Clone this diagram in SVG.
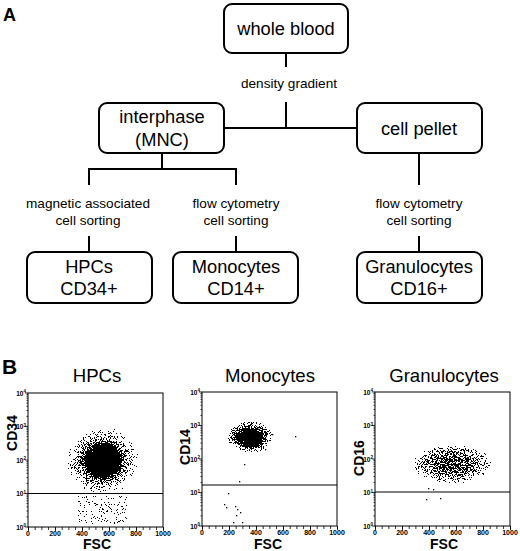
<svg xmlns="http://www.w3.org/2000/svg" width="520" height="551" viewBox="0 0 520 551">
<style>
text{font-family:"Liberation Sans",Arial,sans-serif;fill:#000}
.box{fill:#fff;stroke:#000;stroke-width:2}
.bt{font-size:18.3px;text-anchor:middle}
.st{font-size:13.6px;text-anchor:middle}
.con line{stroke:#000;stroke-width:2}
.pl{font-size:18px;font-weight:bold}
.frame{fill:#fff;stroke:#000;stroke-width:1}
.gate{stroke:#000;stroke-width:1.2}
.title{font-size:18.6px;text-anchor:middle}
.ax{font-size:14px;font-weight:bold;text-anchor:middle}
.tk{font-size:7px;font-weight:bold;text-anchor:middle}
.ty{font-size:6.5px;font-weight:bold;text-anchor:end}
.ty tspan{font-size:4.5px}
.tick{stroke:#000;stroke-width:0.8}
.dot{fill:#000}
</style>
<defs>
<filter id="spk" filterUnits="userSpaceOnUse" x="-20" y="-20" width="180" height="180" color-interpolation-filters="sRGB">
<feTurbulence type="fractalNoise" baseFrequency="0.87" numOctaves="2" seed="7" result="n"/>
<feColorMatrix in="n" type="matrix" values="0 0 0 0 0 0 0 0 0 0 0 0 0 0 0 1 0 0 0 0" result="na"/>
<feComposite in="SourceAlpha" in2="na" operator="arithmetic" k1="0" k2="1" k3="1" k4="-0.8" result="s"/>
<feComponentTransfer in="s"><feFuncA type="discrete" tableValues="0 1"/></feComponentTransfer>
</filter>
<filter id="spkH" filterUnits="userSpaceOnUse" x="-20" y="-20" width="180" height="180" color-interpolation-filters="sRGB">
<feTurbulence type="fractalNoise" baseFrequency="0.87" numOctaves="2" seed="7" result="n"/>
<feColorMatrix in="n" type="matrix" values="0 0 0 0 0 0 0 0 0 0 0 0 0 0 0 1 0 0 0 0" result="na"/>
<feComposite in="SourceAlpha" in2="na" operator="arithmetic" k1="0" k2="1.5" k3="1" k4="-1.125" result="s"/>
<feComponentTransfer in="s"><feFuncA type="discrete" tableValues="0 1"/></feComponentTransfer>
</filter>
<filter id="spkM" filterUnits="userSpaceOnUse" x="-20" y="-20" width="180" height="180" color-interpolation-filters="sRGB">
<feTurbulence type="fractalNoise" baseFrequency="0.91" numOctaves="2" seed="23" result="n"/>
<feColorMatrix in="n" type="matrix" values="0 0 0 0 0 0 0 0 0 0 0 0 0 0 0 1 0 0 0 0" result="na"/>
<feComposite in="SourceAlpha" in2="na" operator="arithmetic" k1="0" k2="1.5" k3="1" k4="-1.125" result="s"/>
<feComponentTransfer in="s"><feFuncA type="discrete" tableValues="0 1"/></feComponentTransfer>
</filter>
<radialGradient id="gH"><stop offset="0" stop-opacity="1"/><stop offset="0.38" stop-opacity="1"/><stop offset="0.45" stop-opacity="0.9"/><stop offset="0.54" stop-opacity="0.79"/><stop offset="0.67" stop-opacity="0.72"/><stop offset="0.82" stop-opacity="0.67"/><stop offset="1" stop-opacity="0.6"/></radialGradient>
<radialGradient id="gM"><stop offset="0" stop-opacity="1"/><stop offset="0.42" stop-opacity="0.95"/><stop offset="0.7" stop-opacity="0.75"/><stop offset="1" stop-opacity="0.64"/></radialGradient>
<radialGradient id="gG"><stop offset="0" stop-opacity="0.88"/><stop offset="0.45" stop-opacity="0.83"/><stop offset="0.8" stop-opacity="0.72"/><stop offset="1" stop-opacity="0.6"/></radialGradient>
<g id="ydec">
<line class="tick" x1="-3" y1="0" x2="0" y2="0"/>
<line class="tick" x1="-1.5" y1="-10.1" x2="0" y2="-10.1"/>
<line class="tick" x1="-1.5" y1="-16" x2="0" y2="-16"/>
<line class="tick" x1="-1.5" y1="-20.2" x2="0" y2="-20.2"/>
<line class="tick" x1="-1.5" y1="-23.4" x2="0" y2="-23.4"/>
<line class="tick" x1="-1.5" y1="-26.1" x2="0" y2="-26.1"/>
<line class="tick" x1="-1.5" y1="-28.3" x2="0" y2="-28.3"/>
<line class="tick" x1="-1.5" y1="-30.3" x2="0" y2="-30.3"/>
<line class="tick" x1="-1.5" y1="-32" x2="0" y2="-32"/>
</g>
<g id="axes">
<use href="#ydec" y="134"/><use href="#ydec" y="100.5"/><use href="#ydec" y="67"/><use href="#ydec" y="33.5"/>
<line class="tick" x1="-3" y1="0" x2="0" y2="0"/>
<line x1="0" y1="135.5" x2="136" y2="135.5" stroke="#000" stroke-width="3" stroke-dasharray="0.8 5.95"/>
<line x1="0" y1="136" x2="136" y2="136" stroke="#000" stroke-width="4" stroke-dasharray="0.8 26.2"/>
<text class="ty" x="-2" y="136.5">10<tspan dy="-2.5">0</tspan></text>
<text class="ty" x="-2" y="103">10<tspan dy="-2.5">1</tspan></text>
<text class="ty" x="-2" y="69.5">10<tspan dy="-2.5">2</tspan></text>
<text class="ty" x="-2" y="36">10<tspan dy="-2.5">3</tspan></text>
<text class="ty" x="-2" y="2.5">10<tspan dy="-2.5">4</tspan></text>
<text class="tk" x="0" y="143">0</text>
<text class="tk" x="27" y="143">200</text>
<text class="tk" x="54" y="143">400</text>
<text class="tk" x="81" y="143">600</text>
<text class="tk" x="108" y="143">800</text>
<text class="tk" x="135" y="143">1000</text>
</g>
</defs>

<text class="pl" x="3" y="21">A</text>

<g id="connectors" class="con">
<line x1="286" y1="53" x2="286" y2="67"/>
<line x1="286" y1="102" x2="286" y2="129"/>
<line x1="224" y1="128" x2="357" y2="128"/>
<line x1="162" y1="153" x2="162" y2="170"/>
<line x1="88" y1="169" x2="237" y2="169"/>
<line x1="89" y1="168" x2="89" y2="185"/>
<line x1="236" y1="168" x2="236" y2="185"/>
<line x1="419" y1="153" x2="419" y2="185"/>
<line x1="89" y1="236" x2="89" y2="252"/>
<line x1="236" y1="236" x2="236" y2="252"/>
<line x1="419" y1="236" x2="419" y2="252"/>
<text class="st" x="289" y="88">density gradient</text>
<text class="st" x="88" y="208">magnetic associated</text>
<text class="st" x="88" y="225">cell sorting</text>
<text class="st" x="236" y="208">flow cytometry</text>
<text class="st" x="236" y="225">cell sorting</text>
<text class="st" x="419" y="208">flow cytometry</text>
<text class="st" x="419" y="225">cell sorting</text>
</g>

<g id="n-whole"><rect class="box" x="224" y="4" width="124" height="49" rx="8"/><text class="bt" x="286" y="35">whole blood</text></g>
<g id="n-inter"><rect class="box" x="99" y="103" width="125" height="50" rx="8"/><text class="bt" x="162" y="123">interphase</text><text class="bt" x="162" y="146">(MNC)</text></g>
<g id="n-pellet"><rect class="box" x="357" y="103" width="125" height="50" rx="8"/><text class="bt" x="419" y="135">cell pellet</text></g>
<g id="n-hpc"><rect class="box" x="27" y="252" width="125" height="51" rx="8"/><text class="bt" x="89" y="273">HPCs</text><text class="bt" x="89" y="295">CD34+</text></g>
<g id="n-mono"><rect class="box" x="173" y="252" width="125" height="51" rx="8"/><text class="bt" x="236" y="273">Monocytes</text><text class="bt" x="236" y="295">CD14+</text></g>
<g id="n-gran"><rect class="box" x="357" y="252" width="125" height="51" rx="8"/><text class="bt" x="419" y="273">Granulocytes</text><text class="bt" x="419" y="295">CD16+</text></g>

<text class="pl" x="2" y="374" style="font-size:21px">B</text>

<g id="plot-hpc">
<text class="title" x="97" y="382">HPCs</text>
<text class="ax" x="97" y="549">FSC</text>
<text class="ax" transform="translate(17,433) rotate(-90)">CD34</text>
<g transform="translate(28,393)">
<rect class="frame" x="0" y="0" width="135" height="134"/>
<g filter="url(#spkH)">
<ellipse cx="75" cy="68" rx="36" ry="34" fill="url(#gH)"/>
<rect x="50" y="103" width="50" height="28" fill="#000" fill-opacity="0.64"/>
</g>
<line class="gate" x1="0" y1="100.5" x2="135" y2="100.5"/>
<use href="#axes"/>
</g>
</g>

<g id="plot-mono">
<text class="title" x="270" y="382">Monocytes</text>
<text class="ax" x="268" y="549">FSC</text>
<text class="ax" transform="translate(190,447) rotate(-90)">CD14</text>
<g transform="translate(202,392)">
<rect class="frame" x="0" y="0" width="135" height="134"/>
<g filter="url(#spkM)">
<ellipse cx="48" cy="45" rx="23" ry="16" fill="url(#gM)"/>
</g>
<g class="dot">
<rect x="70" y="42" width="1.3" height="1.3"/><rect x="93" y="44" width="1.3" height="1.3"/>
<rect x="63" y="57" width="1.3" height="1.3"/><rect x="42" y="72" width="1.3" height="1.3"/>
<rect x="37" y="89" width="1.3" height="1.3"/><rect x="26" y="101" width="1.3" height="1.3"/>
<rect x="22" y="112" width="1.3" height="1.3"/><rect x="24" y="115" width="1.3" height="1.3"/>
<rect x="33" y="114" width="1.3" height="1.3"/><rect x="35" y="117" width="1.3" height="1.3"/>
<rect x="38" y="120" width="1.3" height="1.3"/><rect x="34" y="123" width="1.3" height="1.3"/>
<rect x="31" y="130" width="1.3" height="1.3"/><rect x="40" y="130" width="1.3" height="1.3"/>
<rect x="56" y="35" width="1.3" height="1.3"/>
</g>
<line class="gate" x1="0" y1="93" x2="135" y2="93"/>
<use href="#axes"/>
</g>
</g>

<g id="plot-gran">
<text class="title" x="444" y="382">Granulocytes</text>
<text class="ax" x="444" y="549">FSC</text>
<text class="ax" transform="translate(364,458) rotate(-90)">CD16</text>
<g transform="translate(375,392)">
<rect class="frame" x="0" y="0" width="135" height="134"/>
<g filter="url(#spk)">
<ellipse cx="77" cy="72" rx="40" ry="20" fill="url(#gG)"/>
</g>
<g class="dot">
<rect x="51" y="107" width="1.3" height="1.3"/><rect x="65" y="106" width="1.3" height="1.3"/>
<rect x="53" y="96" width="1.3" height="1.3"/><rect x="58" y="97" width="1.3" height="1.3"/>
</g>
<line class="gate" x1="0" y1="100" x2="135" y2="100"/>
<use href="#axes"/>
</g>
</g>
</svg>
